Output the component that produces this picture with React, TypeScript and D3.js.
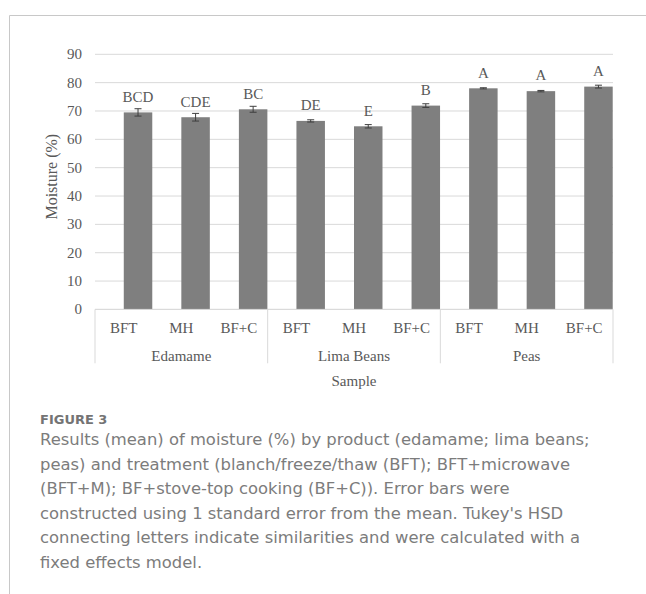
import React from "react";
import * as d3 from "d3";

// Moisture (%) by product and treatment
const groups = ["Edamame", "Lima Beans", "Peas"];
const treatments = ["BFT", "MH", "BF+C"];
const moistureMean = [69.5, 67.8, 70.6, 66.5, 64.6, 71.9, 78.0, 77.0, 78.6];
const moistureSE = [1.3, 1.35, 1.05, 0.4, 0.6, 0.65, 0.2, 0.25, 0.5];
const tukeyLetters = ["BCD", "CDE", "BC", "DE", "E", "B", "A", "A", "A"];
const yTicks = [0, 10, 20, 30, 40, 50, 60, 70, 80, 90];

const captionTitle = "FIGURE 3";
const captionLines = [
  "Results (mean) of moisture (%) by product (edamame; lima beans;",
  "peas) and treatment (blanch/freeze/thaw (BFT); BFT+microwave",
  "(BFT+M); BF+stove-top cooking (BF+C)). Error bars were",
  "constructed using 1 standard error from the mean. Tukey's HSD",
  "connecting letters indicate similarities and were calculated with a",
  "fixed effects model.",
];

const W = 646;
const H = 594;
const plot = { left: 95, right: 613, top: 54.3, bottom: 309.4 };
const serif = "'Liberation Serif', 'Times New Roman', serif";
const sans = "'DejaVu Sans', 'Noto Sans', sans-serif";
const axisText = "#595959";
const gridColor = "#d9d9d9";

export default function App() {
  const rows = groups.flatMap((g, gi) =>
    treatments.map((t, ti) => {
      const i = gi * treatments.length + ti;
      return {
        key: `${g}-${t}`,
        group: g,
        treatment: t,
        mean: moistureMean[i],
        se: moistureSE[i],
        letter: tukeyLetters[i],
      };
    })
  );

  const x = d3
    .scaleBand<string>()
    .domain(rows.map((r) => r.key))
    .range([plot.left, plot.right])
    .paddingInner(0)
    .paddingOuter(0);
  const bw = x.bandwidth();
  const barW = bw * 0.495;

  const y = d3.scaleLinear().domain([0, 90]).range([plot.bottom, plot.top]);

  const groupW = bw * treatments.length;
  const sepBottom = 363.3;

  return (
    <div style={{ position: "absolute", left: 0, top: 0 }}>
      <svg width={W} height={H} viewBox={`0 0 ${W} ${H}`} style={{ display: "block", background: "#fff" }}>
        {/* frame */}
        <line x1={9.5} x2={W} y1={15.5} y2={15.5} stroke="#c8c8c8" strokeWidth={1} />
        <line x1={9.5} x2={9.5} y1={15.5} y2={H} stroke="#c8c8c8" strokeWidth={1} />

        {/* gridlines */}
        {yTicks.map((t) => (
          <line
            key={`g${t}`}
            x1={plot.left}
            x2={plot.right}
            y1={y(t)}
            y2={y(t)}
            stroke={gridColor}
            strokeWidth={1}
          />
        ))}

        {/* y tick labels */}
        {yTicks.map((t) => (
          <text
            key={`t${t}`}
            x={82}
            y={y(t) + 5}
            textAnchor="end"
            fontFamily={serif}
            fontSize={15}
            fill={axisText}
          >
            {t}
          </text>
        ))}

        {/* y axis title */}
        <text
          transform={`translate(57,176.7) rotate(-90)`}
          textAnchor="middle"
          fontFamily={serif}
          fontSize={16}
          fill={axisText}
        >
          Moisture (%)
        </text>

        {/* bars */}
        {rows.map((r) => {
          const bx = (x(r.key) as number) + bw / 2;
          return (
            <rect
              key={`b${r.key}`}
              x={bx}
              y={y(r.mean)}
              width={barW}
              height={y(0) - y(r.mean)}
              fill="#7f7f7f"
            />
          );
        })}

        {/* error bars */}
        {rows.map((r) => {
          const cx = (x(r.key) as number) + bw / 2 + barW / 2;
          const y1 = y(r.mean + r.se);
          const y0 = y(r.mean - r.se);
          return (
            <g key={`e${r.key}`} stroke="#3f3f3f" strokeWidth={1}>
              <line x1={cx} x2={cx} y1={y1} y2={y0} />
              <line x1={cx - 3.5} x2={cx + 3.5} y1={y1} y2={y1} />
              <line x1={cx - 3.5} x2={cx + 3.5} y1={y0} y2={y0} />
            </g>
          );
        })}

        {/* connecting letters */}
        {rows.map((r) => {
          const cx = (x(r.key) as number) + bw / 2 + barW / 2;
          return (
            <text
              key={`l${r.key}`}
              x={cx}
              y={y(r.mean) - 10.7}
              textAnchor="middle"
              fontFamily={serif}
              fontSize={15}
              fill={axisText}
            >
              {r.letter}
            </text>
          );
        })}

        {/* category axis */}
        <line x1={plot.left} x2={plot.right} y1={y(0)} y2={y(0)} stroke={gridColor} strokeWidth={1} />
        {d3.range(groups.length + 1).map((i) => (
          <line
            key={`s${i}`}
            x1={plot.left + i * groupW}
            x2={plot.left + i * groupW}
            y1={y(0)}
            y2={sepBottom}
            stroke={gridColor}
            strokeWidth={1}
          />
        ))}
        {rows.map((r) => (
          <text
            key={`c${r.key}`}
            x={(x(r.key) as number) + bw / 2}
            y={333.3}
            textAnchor="middle"
            fontFamily={serif}
            fontSize={15}
            fill={axisText}
          >
            {r.treatment}
          </text>
        ))}
        {groups.map((g, i) => (
          <text
            key={`gr${g}`}
            x={plot.left + i * groupW + groupW / 2}
            y={361}
            textAnchor="middle"
            fontFamily={serif}
            fontSize={15}
            fill={axisText}
          >
            {g}
          </text>
        ))}
        <text
          x={(plot.left + plot.right) / 2}
          y={386}
          textAnchor="middle"
          fontFamily={serif}
          fontSize={15}
          fill={axisText}
        >
          Sample
        </text>

        {/* caption */}
        <text x={40} y={424} fontFamily={sans} fontSize={13} fontWeight={700} fill="#747474">
          {captionTitle}
        </text>
        {captionLines.map((line, i) => (
          <text
            key={`cap${i}`}
            x={40}
            y={445 + i * 24.5}
            fontFamily={sans}
            fontSize={16.4}
            fill="#7c7c7c"
          >
            {line}
          </text>
        ))}
      </svg>
    </div>
  );
}
